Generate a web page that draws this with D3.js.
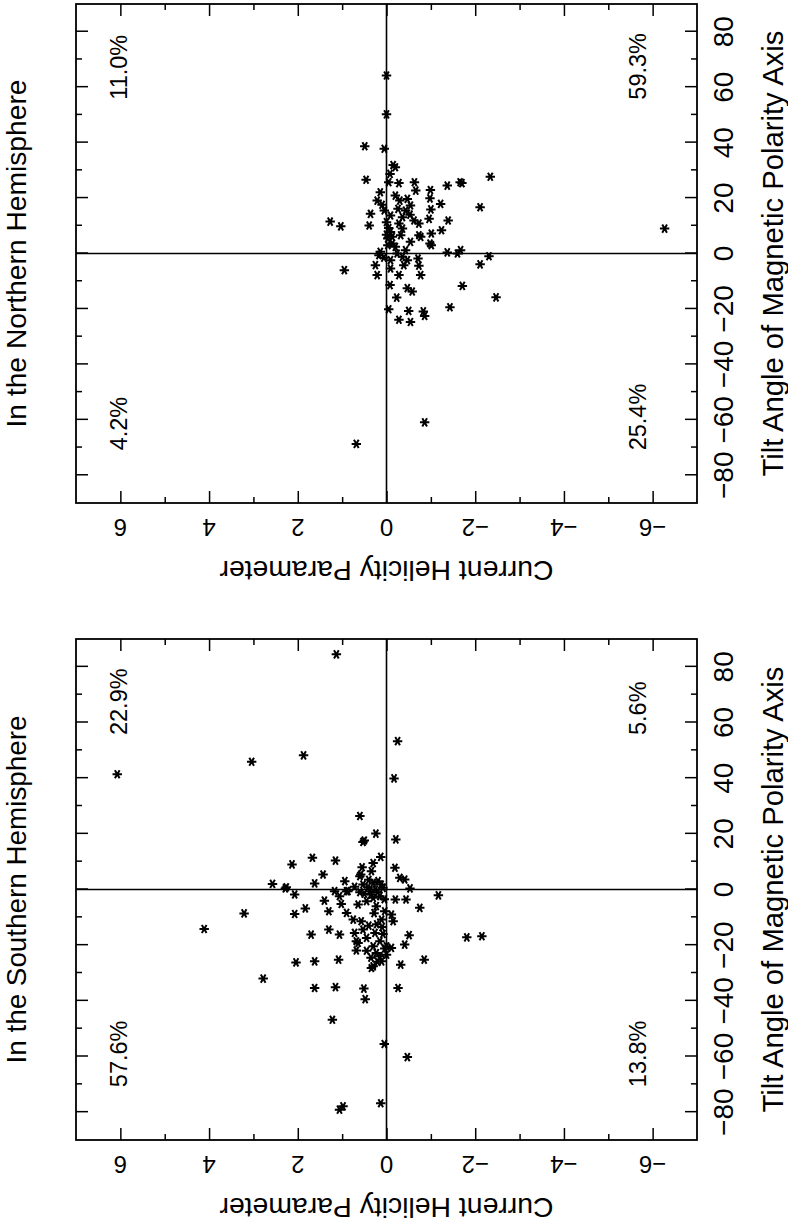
<!DOCTYPE html>
<html>
<head>
<meta charset="utf-8">
<script src="https://cdn.jsdelivr.net/npm/d3@7"></script>
<style>
  html, body { margin: 0; padding: 0; background: #fff; }
  svg { display: block; }
  text { font-family: "Liberation Sans", Arial, sans-serif; fill: #000; }
</style>
</head>
<body>
<svg id="chart" width="788" height="1222"></svg>
<script>
// Values: tilt angle (deg) and current helicity, one entry per star.
const northTilt = [64.2, 50.2, 38.7, 37.8, 26.6, 11.5, 9.8, 10.1, 14.3, -6.0, -7.8,
  31.9, 31.1, 28.7, 25.7, 25.4, 25.7, 22.7, 24.5, 25.7, 25.4, 27.7, 22.9, 19.9, 22.1, 19.1,
  20.9, 19.1, 19.7, 17.3, 17.9, 16.7, 17.6, 13.7, 13.1, 14.0, 10.8, 15.9, 12.5, 11.9, 8.4,
  6.6, 7.2, 3.6, 3.0, 7.8, 5.4, 3.6, 6.6, 4.2, 1.2, 0.6, -0.6, 0.4, 0.0, 1.2, -1.0, -3.9,
  -4.2, -2.4, -2.4, -1.8, -4.4, -7.8, -7.8, -5.4, -11.4, -12.5, -13.7, -11.7, -15.8, -15.9,
  -20.1, -20.7, -20.9, -22.5, -19.4, -23.9, -24.7,
  11.3, 9.2, 6.8, 6.0, 3.0, 2.4, -1.5, 0.0, -1.2, -4.2, 15.5, 16.1, 15.5, 11.9, 10.8, 9.0, 6.0,
  -68.7, -60.9, 9.0];
const northHelicity = [0.00, 0.00, 0.49, 0.05, 0.46, 1.27, 1.03, 0.39, 0.36, 0.95, 0.21,
  -0.15, -0.20, -0.08, -0.05, -0.28, -0.63, -0.66, -1.37, -1.66, -1.70, -2.34, -0.99, -0.98, 0.14, 0.21,
  -0.20, -0.30, -0.47, -0.54, -1.22, -2.11, 0.10, -0.09, -0.36, -0.53, -0.73, -1.00, -0.96, -1.39, -1.24,
  -0.73, -1.01, -0.98, -1.01, -0.09, -0.03, -0.13, -0.32, -0.54, -0.43, 0.14, 0.17, -1.37, -1.60, -1.67, -2.31, -2.11,
  0.25, -0.09, -0.47, -0.71, -0.73, -0.77, -0.28, -0.09, -0.08, -0.47, -0.58, -1.71, -2.47, -0.23,
  -0.05, -0.50, -0.83, -0.86, -1.43, -0.28, -0.54,
  0.00, -0.05, 0.00, -0.13, -0.03, -0.20, 0.06, -0.24, -0.36, -0.39, 0.05, -0.26, -0.43, -0.62, -0.28, -0.36, -0.77,
  0.68, -0.86, -6.27];

const southTilt = [84.5, 41.4, 45.9, 48.2, 53.3, 39.9, 26.4, 17.1, 17.6, 20.1, 18.0, 11.7, 7.8,
  9.0, 11.4, 10.4, 5.4, 2.2, 2.0, 0.4, 0.8, -1.8, -8.6, -8.8, -6.8, -4.0, -7.8, 3.0, -0.6, 4.8,
  -14.2, -16.2, -14.4, -16.2, -0.6, -5.2, -2.4, -0.6, 6.6, 1.8, -0.6, 3.0, 0.6, -2.4, -3.0, -4.2,
  -6.0, -7.8, -10.8, -9.0, -11.4, -5.4, -8.4, -10.8, -11.4, -14.4, -15.6, -18.6, -17.4, -15.6,
  -18.6, -20.4, -20.4, 4.2, 3.6, 0.4, -3.6, -3.6, -6.6, -2.1, -16.4, -19.8, 5.4, -19.2, -21.9,
  -27.6, -24.0, -23.4, -21.0, -21.2, -22.8, -25.8, -27.0, -25.2, -26.2, -25.8, -25.2, -32.0,
  -35.4, -35.1, -35.6, -39.4, -35.4, -46.8, -55.5, -60.2, -76.8, -77.9, -79.1, -17.2, -16.8, -28.2,
  2.4, 0.8, -1.0, -1.8, 1.8, -1.5, 0.0, 3.5, -3.5, -8.5, -13.0, -12.5, -16.0, -24.5, -26.0, -22.0,
  -13.5, -1.0, 1.0, 8.0, 9.5];
const southHelicity = [1.13, 6.07, 3.04, 1.87, -0.25, -0.17, 0.60, 0.53, 0.50, 0.24, -0.21, 0.13, -0.19,
  2.13, 1.67, 1.15, 1.43, 1.62, 2.57, 2.28, 2.26, 2.07, 3.21, 2.07, 1.83, 1.40, 1.30, 0.94, 0.90, 0.60,
  4.11, 1.70, 1.30, 1.06, 1.17, 1.02, 1.06, 0.87, 0.34, 0.53, 0.38, 0.19, 0.08, 0.15, 0.30, 0.45,
  0.23, 0.04, 0.11, -0.11, -0.15, 0.64, 0.90, 0.75, 0.57, 0.53, 0.72, 0.68, 0.45, 0.26,
  0.15, 0.00, 0.30, -0.30, -0.41, -0.53, -0.20, -0.44, -0.75, -1.17, -0.51, -0.41, 0.58, 0.64, 0.68,
  0.30, 0.15, 0.00, -0.11, 0.04, 0.23, 0.11, -0.32, -0.85, 2.04, 1.62, 1.08, 2.78,
  1.62, 1.15, 0.51, 0.48, -0.26, 1.22, 0.05, -0.47, 0.13, 0.98, 1.06, -1.81, -2.15, 0.34,
  0.30, 0.42, 0.20, 0.35, 0.12, 0.50, 0.25, 0.40, 0.05, 0.28, 0.40, 0.22, 0.08, 0.35, 0.20, 0.45,
  0.10, 0.60, 0.72, 0.55, 0.30];

const tiltMajor = [-80, -60, -40, -20, 0, 20, 40, 60, 80];
const tiltMinor = [-70, -50, -30, -10, 10, 30, 50, 70];
const helMajor = [-6, -4, -2, 0, 2, 4, 6];
const helMinor = [-5, -3, -1, 1, 3, 5];
const northPercents = ["11.0%", "59.3%", "4.2%", "25.4%"]; // (+h,+t) (-h,+t) (+h,-t) (-h,-t)
const southPercents = ["22.9%", "5.6%", "57.6%", "13.8%"];

const W = 788, H = 1222;
const fmt = d => d < 0 ? "\u2212" + Math.abs(d) : String(d);

// The figure is printed in landscape and turned a quarter turn; draw it flat and rotate.
// landscape (u, v) -> page (v, H - u)
const svg = d3.select("#chart");
svg.append("rect").attr("width", W).attr("height", H).attr("fill", "#fff");
const page = svg.append("g").attr("transform", `translate(0,${H}) rotate(-90)`);

function drawPanel(p) {
  const x = d3.scaleLinear().domain([-90, 90]).range([p.u0, p.u1]);
  const y = d3.scaleLinear().domain([-7, 7]).range([697, 76]);
  const g = page.append("g");
  const mid = (p.u0 + p.u1) / 2;

  g.append("rect")
    .attr("x", p.u0).attr("y", y(7))
    .attr("width", p.u1 - p.u0).attr("height", y(-7) - y(7))
    .attr("fill", "none").attr("stroke", "#000").attr("stroke-width", 1.8);

  // zero lines
  g.append("line").attr("x1", x(-90)).attr("x2", x(90)).attr("y1", y(0)).attr("y2", y(0))
    .attr("stroke", "#000").attr("stroke-width", 1.6);
  g.append("line").attr("x1", x(0)).attr("x2", x(0)).attr("y1", y(-7)).attr("y2", y(7))
    .attr("stroke", "#000").attr("stroke-width", 1.6);

  // inward ticks on all four sides
  const tickAxis = (axis, vals, len, tr) => {
    g.append("g").attr("transform", tr)
      .call(axis.tickValues(vals).tickSize(-len).tickSizeOuter(0).tickFormat(""))
      .call(a => a.select(".domain").remove())
      .call(a => a.selectAll("line").attr("stroke", "#000").attr("stroke-width", 1.5));
  };
  tickAxis(d3.axisBottom(x), tiltMajor, 12, `translate(0,${y(-7)})`);
  tickAxis(d3.axisBottom(x), tiltMinor, 6, `translate(0,${y(-7)})`);
  tickAxis(d3.axisTop(x), tiltMajor, 12, `translate(0,${y(7)})`);
  tickAxis(d3.axisTop(x), tiltMinor, 6, `translate(0,${y(7)})`);
  tickAxis(d3.axisLeft(y), helMajor, 12, `translate(${p.u0},0)`);
  tickAxis(d3.axisLeft(y), helMinor, 6, `translate(${p.u0},0)`);
  tickAxis(d3.axisRight(y), helMajor, 12, `translate(${p.u1},0)`);
  tickAxis(d3.axisRight(y), helMinor, 6, `translate(${p.u1},0)`);

  // tick labels
  g.append("g").selectAll("text").data(tiltMajor).join("text")
    .attr("x", d => x(d)).attr("y", 733)
    .attr("text-anchor", "middle").attr("font-size", 28)
    .text(fmt);
  g.append("g").selectAll("text").data(helMajor).join("text")
    .attr("transform", d => `translate(${p.u0 - 16},${y(d)}) rotate(-90)`)
    .attr("text-anchor", "middle").attr("font-size", 24)
    .text(fmt);

  // axis titles
  g.append("text")
    .attr("transform", `translate(${p.u0 - 58},${y(0)}) rotate(-90)`)
    .attr("text-anchor", "middle").attr("font-size", 28)
    .attr("textLength", 334).attr("lengthAdjust", "spacingAndGlyphs")
    .text("Current Helicity Parameter");
  g.append("text")
    .attr("x", mid).attr("y", 783)
    .attr("text-anchor", "middle").attr("font-size", 29)
    .attr("textLength", 446).attr("lengthAdjust", "spacingAndGlyphs")
    .text("Tilt Angle of Magnetic Polarity Axis");
  g.append("text")
    .attr("x", mid).attr("y", 26)
    .attr("text-anchor", "middle").attr("font-size", 28)
    .attr("textLength", 348).attr("lengthAdjust", "spacingAndGlyphs")
    .text(p.title);

  // quadrant percentages
  const spots = [[55.5, 5.85], [55.5, -5.85], [-71, 5.85], [-71, -5.85]];
  g.append("g").selectAll("text").data(p.percents).join("text")
    .attr("x", (d, i) => x(spots[i][0])).attr("y", (d, i) => y(spots[i][1]))
    .attr("font-size", 23.5)
    .text(d => d);

  // stars
  const star = d3.symbol().type(d3.symbolAsterisk).size(62);
  g.append("g").selectAll("path").data(p.tilt.map((t, i) => [t, p.hel[i]])).join("path")
    .attr("transform", d => `translate(${x(d[0])},${y(d[1])})`)
    .attr("d", star)
    .attr("fill", "none").attr("stroke", "#000").attr("stroke-width", 2);
}

drawPanel({ u0: 82, u1: 583, title: "In the Southern Hemisphere",
  tilt: southTilt, hel: southHelicity, percents: southPercents });
drawPanel({ u0: 719, u1: 1218, title: "In the Northern Hemisphere",
  tilt: northTilt, hel: northHelicity, percents: northPercents });
</script>
</body>
</html>
